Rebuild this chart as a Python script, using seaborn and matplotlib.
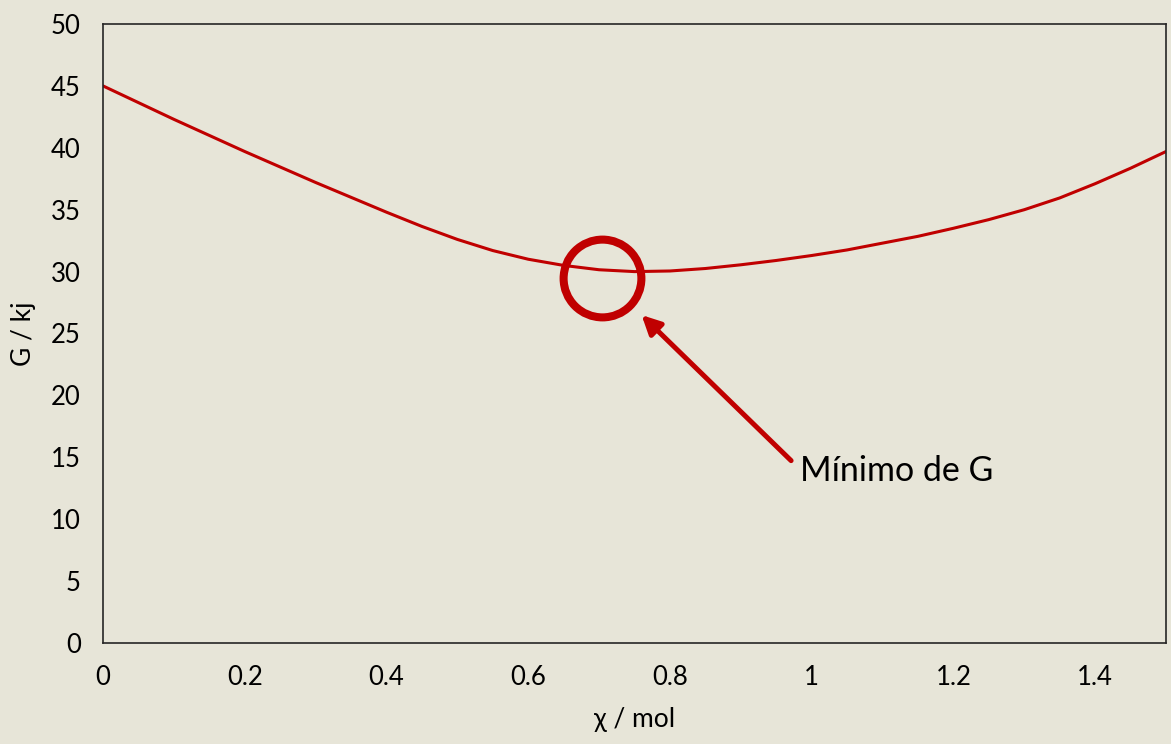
import pandas as pd
import numpy as np
import matplotlib.pyplot as plt
import seaborn as sns

# valores
chi = [0.0, 0.05, 0.1, 0.15, 0.2, 0.25, 0.3, 0.35, 0.4, 0.45, 0.5, 0.55, 0.6, 0.65,
       0.7, 0.75, 0.8, 0.85, 0.9, 0.95, 1.0, 1.05, 1.1, 1.15, 1.2, 1.25, 1.3, 1.35,
       1.4, 1.45, 1.5]
G = [45.0, 43.65, 42.3, 41.0, 39.7, 38.45, 37.2, 36.0, 34.8, 33.65, 32.6, 31.7, 31.0, 30.5,
     30.15, 30.0, 30.05, 30.25, 30.55, 30.9, 31.3, 31.75, 32.3, 32.85, 33.5, 34.2, 35.0, 35.95,
     37.1, 38.35, 39.7]
x_ticks = [0, 0.2, 0.4, 0.6, 0.8, 1.0, 1.2, 1.4]
x_tick_labels = ['0', '0.2', '0.4', '0.6', '0.8', '1', '1.2', '1.4']
y_ticks = list(range(0, 55, 5))

# anotación del mínimo
circle_xy = (0.7035, 29.47)
arrow_tail = (0.971, 14.73)
arrow_head = (0.760, 26.49)
note_xy = (0.984, 13.9)
note_text = 'Mínimo de G'

df = pd.DataFrame({'chi': chi, 'G': G})

bg = '#E7E5D8'
red = '#C00000'

sns.set_theme(style='white')
plt.rcParams['font.family'] = ['Lato', 'DejaVu Sans']

fig = plt.figure(figsize=(11.71, 7.44), dpi=100, facecolor=bg)
ax = fig.add_axes([0.088, 0.1358, 0.9077, 0.8319])
ax.set_facecolor(bg)

sns.lineplot(data=df, x='chi', y='G', color=red, linewidth=2.2, ax=ax)

# círculo y flecha
ax.plot(*circle_xy, marker='o', markersize=56, markerfacecolor='none',
        markeredgecolor=red, markeredgewidth=5.8)
ax.annotate('', xy=arrow_head, xytext=arrow_tail,
            arrowprops=dict(arrowstyle='-|>', color=red, lw=3.6,
                            mutation_scale=28, shrinkA=0, shrinkB=0))
ax.text(note_xy[0], note_xy[1], note_text, fontsize=24.5, va='center', ha='left',
        color='black')

ax.set_xlim(0, 1.5)
ax.set_ylim(0, 50)
ax.set_xticks(x_ticks)
ax.set_xticklabels(x_tick_labels)
ax.set_yticks(y_ticks)
ax.tick_params(axis='both', length=0, labelsize=18.5, colors='black')
ax.tick_params(axis='y', pad=16)
ax.tick_params(axis='x', pad=16)
ax.set_xlabel('χ / mol', fontsize=19, labelpad=12, color='black')
ax.set_ylabel('G / kj', fontsize=19, labelpad=11, color='black')

for s in ax.spines.values():
    s.set_color('#262626')
    s.set_linewidth(1.2)

fig.savefig('out.png', dpi=100, facecolor=bg)
